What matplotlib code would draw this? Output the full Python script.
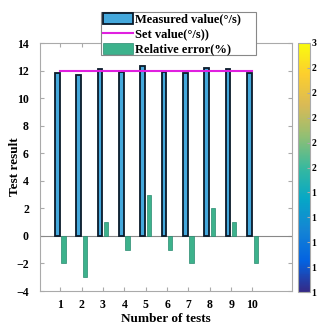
import matplotlib
matplotlib.use("Agg")
import matplotlib.pyplot as plt
import numpy as np
from matplotlib.colors import LinearSegmentedColormap
from matplotlib.lines import Line2D
from matplotlib.patches import Patch, Rectangle
import matplotlib.cm as cm
from matplotlib.colors import Normalize
from matplotlib.ticker import FuncFormatter

tests = [1, 2, 3, 4, 5, 6, 7, 8, 9, 10]
measured = [11.8, 11.7, 12.1, 11.9, 12.3, 11.9, 11.8, 12.2, 12.1, 11.8]
set_value = [12, 12, 12, 12, 12, 12, 12, 12, 12, 12]
rel_error = [-2, -3, 1, -1, 3, -1, -2, 2, 1, -2]
yticks = [-4, -2, 0, 2, 4, 6, 8, 10, 12, 14]

plt.rcParams['font.family'] = ['Liberation Serif', 'DejaVu Serif']
plt.rcParams['font.weight'] = 'bold'

fig = plt.figure(figsize=(3.2, 3.25), dpi=100)
W, H = 320, 325
ax = fig.add_axes([40 / W, 1 - 291 / H, (292 - 40) / W, (291 - 43) / H])

x = np.array(tests, dtype=float)
ax.bar(x - 0.14, measured, width=0.22, color='#44A8DC', edgecolor='#0A1A2A', linewidth=1.3, zorder=3)
ax.bar(x + 0.15, rel_error, width=0.2, color='#3DB28C', edgecolor='#2A8A70', linewidth=0.5, zorder=3)
ax.plot(x, set_value, color='#E020E0', linewidth=1.5, zorder=4)
ax.axhline(0, color='#888888', linewidth=0.8, zorder=2)

ax.set_xlim(0.05, 11.85)
ax.set_ylim(-4, 14)
ax.set_xticks(tests)
ax.set_yticks(yticks)
ax.tick_params(direction='in', length=3, color='#AAAAAA', labelsize=8.5, top=True, right=True)
ax.tick_params(axis='x', pad=6)
ax.tick_params(axis='y', pad=8)
for lab in ax.get_xticklabels() + ax.get_yticklabels():
    lab.set_fontweight('bold')
for s in ax.spines.values():
    s.set_color('#AAAAAA')
    s.set_linewidth(0.8)
ax.set_xlabel('Number of tests', fontsize=9.5, fontweight='bold', labelpad=1)
ax.set_ylabel('Test result', fontsize=9.5, fontweight='bold')
ax.yaxis.set_label_coords(-0.075, 0.5)

handles = [Patch(facecolor='#44A8DC', edgecolor='#0A1A2A', linewidth=1.3),
           Line2D([0], [0], color='#E020E0', linewidth=1.5),
           Patch(facecolor='#3DB28C', edgecolor='#2A8A70', linewidth=0.5)]
labels = ['Measured value(°/s)', 'Set value(°/s))', 'Relative error(%)']
leg = fig.legend(handles, labels, loc='upper left', bbox_to_anchor=(102 / W, 1 - 12 / H),
                 fontsize=9, frameon=False, handlelength=2.4, handleheight=0.9,
                 handletextpad=0.15, borderpad=0.1, labelspacing=0.2, borderaxespad=0)
for t in leg.get_texts():
    t.set_fontweight('bold')
fig.patches.append(Rectangle((101 / W, 1 - 55 / H), (256 - 101) / W, (55 - 12) / H,
                             transform=fig.transFigure, facecolor='white',
                             edgecolor='#888888', linewidth=0.8, zorder=0.5))
leg.set_zorder(5)

parula = LinearSegmentedColormap.from_list('parula', [
    '#352A87', '#0363E1', '#1485D4', '#06A7C6', '#38B99E',
    '#92BF73', '#D9BA56', '#FCCE2E', '#F9FB0E'])
cax = fig.add_axes([298 / W, 1 - 292 / H, 12 / W, (292 - 43) / H])
cb = fig.colorbar(cm.ScalarMappable(norm=Normalize(1, 3), cmap=parula), cax=cax)
cb.set_ticks(np.linspace(1, 3, 11))
cb.ax.yaxis.set_major_formatter(FuncFormatter(lambda v, p: '%d' % int(v + 1e-9)))
cb.ax.tick_params(direction='in', length=2, labelsize=7, pad=1, color='#AAAAAA')
cb.outline.set_edgecolor('#AAAAAA')
for lab in cb.ax.get_yticklabels():
    lab.set_fontweight('bold')

fig.savefig('out.png', dpi=100)
